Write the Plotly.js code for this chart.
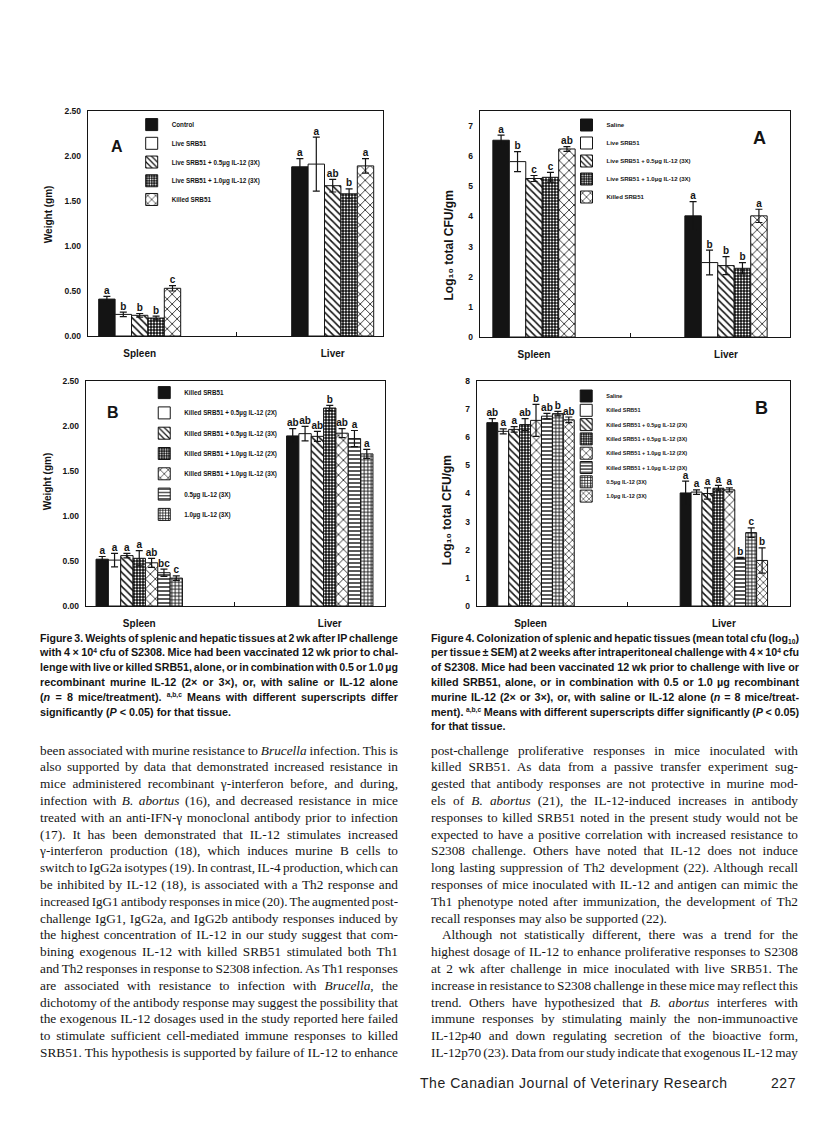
<!DOCTYPE html>
<html>
<head>
<meta charset="utf-8">
<title>Figures 3 and 4 – SRB51 and IL-12</title>
<script src="https://cdn.plot.ly/plotly-3.0.1.min.js"></script>
<style>
  html, body { margin:0; padding:0; background:#fff; }
  body { position:relative; width:816px; height:1133px; overflow:hidden; }
  .panel { position:absolute; }
  .block { position:absolute; color:#151515; }
  .line { white-space:nowrap; }
  .line > span { white-space:nowrap; display:inline-block; transform-origin:0 50%; }
  .cap { font-family:'Liberation Sans', Arial, sans-serif; font-weight:700; font-size:10.8px; line-height:14.8px; }
  .txt { font-family:'Liberation Serif', 'Times New Roman', serif; font-size:13.3px; line-height:16.8px; }
  sup { font-size:62%; line-height:1; vertical-align:baseline; position:relative; top:-0.55em; }
  sub { font-size:62%; line-height:1; vertical-align:baseline; position:relative; top:0.3em; }
  .foot { position:absolute; font-family:'Liberation Sans', Arial, sans-serif; font-size:14px; line-height:18px; color:#222; letter-spacing:0.55px; }
</style>
</head>
<body>
<div id="p1" class="panel" style="left:0px;top:90px;width:408px;height:275px"></div>
<div id="p2" class="panel" style="left:408px;top:90px;width:408px;height:275px"></div>
<div id="p3" class="panel" style="left:0px;top:365px;width:408px;height:270px"></div>
<div id="p4" class="panel" style="left:408px;top:365px;width:408px;height:270px"></div>

<div class="block cap" style="left:40px;top:630.6px;width:358px">
  <div class="line"><span>Figure 3. Weights of splenic and hepatic tissues at 2 wk after IP challenge</span></div>
  <div class="line"><span>with 4 × 10<sup>4</sup> cfu of S2308. Mice had been vaccinated 12 wk prior to chal-</span></div>
  <div class="line"><span>lenge with live or killed SRB51, alone, or in combination with 0.5 or 1.0 µg</span></div>
  <div class="line"><span>recombinant murine IL-12 (2× or 3×), or, with saline or IL-12 alone</span></div>
  <div class="line"><span>(<i>n</i> = 8 mice/treatment). <sup>a,b,c</sup> Means with different superscripts differ</span></div>
  <div class="line last"><span>significantly (<i>P</i> &lt; 0.05) for that tissue.</span></div>
</div>

<div class="block cap" style="left:431px;top:630.6px;width:368px">
  <div class="line"><span>Figure 4. Colonization of splenic and hepatic tissues (mean total cfu (log<sub>10</sub>)</span></div>
  <div class="line"><span>per tissue ± SEM) at 2 weeks after intraperitoneal challenge with 4 × 10<sup>4</sup> cfu</span></div>
  <div class="line"><span>of S2308. Mice had been vaccinated 12 wk prior to challenge with live or</span></div>
  <div class="line"><span>killed SRB51, alone, or in combination with 0.5 or 1.0 µg recombinant</span></div>
  <div class="line"><span>murine IL-12 (2× or 3×), or, with saline or IL-12 alone (<i>n</i> = 8 mice/treat-</span></div>
  <div class="line"><span>ment). <sup>a,b,c</sup> Means with different superscripts differ significantly (<i>P</i> &lt; 0.05)</span></div>
  <div class="line last"><span>for that tissue.</span></div>
</div>

<div class="block txt" style="left:40px;top:742.6px;width:358px">
  <div class="line"><span>been associated with murine resistance to <i>Brucella</i> infection. This is</span></div>
  <div class="line"><span>also supported by data that demonstrated increased resistance in</span></div>
  <div class="line"><span>mice administered recombinant γ-interferon before, and during,</span></div>
  <div class="line"><span>infection with <i>B. abortus</i> (16), and decreased resistance in mice</span></div>
  <div class="line"><span>treated with an anti-IFN-γ monoclonal antibody prior to infection</span></div>
  <div class="line"><span>(17). It has been demonstrated that IL-12 stimulates increased</span></div>
  <div class="line"><span>γ-interferon production (18), which induces murine B cells to</span></div>
  <div class="line"><span>switch to IgG2a isotypes (19). In contrast, IL-4 production, which can</span></div>
  <div class="line"><span>be inhibited by IL-12 (18), is associated with a Th2 response and</span></div>
  <div class="line"><span>increased IgG1 antibody responses in mice (20). The augmented post-</span></div>
  <div class="line"><span>challenge IgG1, IgG2a, and IgG2b antibody responses induced by</span></div>
  <div class="line"><span>the highest concentration of IL-12 in our study suggest that com-</span></div>
  <div class="line"><span>bining exogenous IL-12 with killed SRB51 stimulated both Th1</span></div>
  <div class="line"><span>and Th2 responses in response to S2308 infection. As Th1 responses</span></div>
  <div class="line"><span>are associated with resistance to infection with <i>Brucella</i>, the</span></div>
  <div class="line"><span>dichotomy of the antibody response may suggest the possibility that</span></div>
  <div class="line"><span>the exogenous IL-12 dosages used in the study reported here failed</span></div>
  <div class="line"><span>to stimulate sufficient cell-mediated immune responses to killed</span></div>
  <div class="line"><span>SRB51. This hypothesis is supported by failure of IL-12 to enhance</span></div>
</div>

<div class="block txt" style="left:431px;top:742.6px;width:367px">
  <div class="line"><span>post-challenge proliferative responses in mice inoculated with</span></div>
  <div class="line"><span>killed SRB51. As data from a passive transfer experiment sug-</span></div>
  <div class="line"><span>gested that antibody responses are not protective in murine mod-</span></div>
  <div class="line"><span>els of <i>B. abortus</i> (21), the IL-12-induced increases in antibody</span></div>
  <div class="line"><span>responses to killed SRB51 noted in the present study would not be</span></div>
  <div class="line"><span>expected to have a positive correlation with increased resistance to</span></div>
  <div class="line"><span>S2308 challenge. Others have noted that IL-12 does not induce</span></div>
  <div class="line"><span>long lasting suppression of Th2 development (22). Although recall</span></div>
  <div class="line"><span>responses of mice inoculated with IL-12 and antigen can mimic the</span></div>
  <div class="line"><span>Th1 phenotype noted after immunization, the development of Th2</span></div>
  <div class="line last"><span>recall responses may also be supported (22).</span></div>
  <div class="line" data-indent="11"><span>Although not statistically different, there was a trend for the</span></div>
  <div class="line"><span>highest dosage of IL-12 to enhance proliferative responses to S2308</span></div>
  <div class="line"><span>at 2 wk after challenge in mice inoculated with live SRB51. The</span></div>
  <div class="line"><span>increase in resistance to S2308 challenge in these mice may reflect this</span></div>
  <div class="line"><span>trend. Others have hypothesized that <i>B. abortus</i> interferes with</span></div>
  <div class="line"><span>immune responses by stimulating mainly the non-immunoactive</span></div>
  <div class="line"><span>IL-12p40 and down regulating secretion of the bioactive form,</span></div>
  <div class="line"><span>IL-12p70 (23). Data from our study indicate that exogenous IL-12 may</span></div>
</div>

<div class="foot" style="left:420px;top:1074px;">The Canadian Journal of Veterinary Research</div>
<div class="foot" style="left:771px;top:1074px;">227</div>

<script>
// ---------------- data ----------------
const tissues = ['Spleen', 'Liver'];

// Figure 3A: weight (gm) of spleen and liver, live SRB51 groups
const fig3aGroups = ['Control', 'Live SRB51', 'Live SRB51 + 0.5µg IL-12 (3X)', 'Live SRB51 + 1.0µg IL-12 (3X)', 'Killed SRB51'];
const fig3aMean = [[0.41, 1.88], [0.24, 1.91], [0.23, 1.67], [0.20, 1.58], [0.53, 1.89]];
const fig3aSem  = [[0.03, 0.09], [0.025, 0.30], [0.02, 0.07], [0.02, 0.055], [0.03, 0.08]];
const fig3aSig  = [['a', 'a'], ['b', 'a'], ['b', 'ab'], ['b', 'b'], ['c', 'a']];

// Figure 4A: log10 total CFU, live SRB51 groups
const fig4aGroups = ['Saline', 'Live SRB51', 'Live SRB51 + 0.5µg IL-12 (3X)', 'Live SRB51 + 1.0µg IL-12 (3X)', 'Killed SRB51'];
const fig4aMean = [[6.53, 4.02], [5.82, 2.47], [5.26, 2.37], [5.30, 2.28], [6.24, 4.02]];
const fig4aSem  = [[0.17, 0.47], [0.33, 0.41], [0.10, 0.30], [0.16, 0.19], [0.08, 0.22]];
const fig4aSig  = [['a', 'a'], ['b', 'b'], ['c', 'b'], ['c', 'b'], ['ab', 'a']];

// Figure 3B: weight (gm), killed SRB51 / IL-12 groups
const fig3bGroups = ['Killed SRB51', 'Killed SRB51 + 0.5µg IL-12 (2X)', 'Killed SRB51 + 0.5µg IL-12 (3X)', 'Killed SRB51 + 1.0µg IL-12 (2X)', 'Killed SRB51 + 1.0µg IL-12 (3X)', '0.5µg IL-12 (3X)', '1.0µg IL-12 (3X)'];
const fig3bMean = [[0.52, 1.89], [0.51, 1.915], [0.56, 1.885], [0.53, 2.20], [0.48, 1.92], [0.37, 1.86], [0.31, 1.69]];
const fig3bSem  = [[0.03, 0.08], [0.075, 0.08], [0.025, 0.055], [0.085, 0.03], [0.05, 0.05], [0.04, 0.09], [0.025, 0.05]];
const fig3bSig  = [['a', 'ab'], ['a', 'ab'], ['a', 'ab'], ['a', 'b'], ['ab', 'ab'], ['bc', 'a'], ['c', 'a']];

// Figure 4B: log10 total CFU, killed SRB51 / IL-12 groups
const fig4bGroups = ['Saline', 'Killed SRB51', 'Killed SRB51 + 0.5µg IL-12 (2X)', 'Killed SRB51 + 0.5µg IL-12 (3X)', 'Killed SRB51 + 1.0µg IL-12 (2X)', 'Killed SRB51 + 1.0µg IL-12 (3X)', '0.5µg IL-12 (3X)', '1.0µg IL-12 (3X)'];
const fig4bMean = [[6.52, 4.02], [6.21, 4.05], [6.28, 4.00], [6.45, 4.19], [6.60, 4.13], [6.75, 1.71], [6.84, 2.61], [6.62, 1.62]];
const fig4bSem  = [[0.14, 0.42], [0.09, 0.08], [0.10, 0.20], [0.21, 0.10], [0.57, 0.07], [0.10, 0.02], [0.08, 0.17], [0.10, 0.45]];
const fig4bSig  = [['ab', 'a'], ['a', 'a'], ['a', 'a'], ['ab', 'a'], ['b', 'a'], ['ab', 'b'], ['b', 'c'], ['ab', 'b']];

const weightTicks = [0, 0.5, 1, 1.5, 2, 2.5];
const cfuTicksA = [0, 1, 2, 3, 4, 5, 6, 7];
const cfuTicksB = [0, 1, 2, 3, 4, 5, 6, 7, 8];
const weightTitle = 'Weight (gm)';
const cfuTitle = 'Log\u2081\u2080 total CFU/gm';

// ---------------- styles ----------------
const FONT = 'Liberation Sans, Arial, sans-serif';
const INK = '#141414';
const fills = {
  solid:  { color: INK },
  open:   { color: '#ffffff' },
  hatch:  { color: '#ffffff', pattern: { shape: '\\', size: 5, solidity: 0.32, fgcolor: INK, bgcolor: '#ffffff' } },
  dots:   { color: INK, pattern: { shape: '.', size: 3, solidity: 0.3, fgcolor: '#ffffff', bgcolor: INK } },
  cross:  { color: '#ffffff', pattern: { shape: 'x', size: 7, solidity: 0.22, fgcolor: INK, bgcolor: '#ffffff' } },
  hlines: { color: '#ffffff', pattern: { shape: '-', size: 4, solidity: 0.35, fgcolor: INK, bgcolor: '#ffffff' } },
  grid:   { color: '#ffffff', pattern: { shape: '+', size: 3.5, solidity: 0.45, fgcolor: INK, bgcolor: '#ffffff' } },
  cross2: { color: '#ffffff', pattern: { shape: 'x', size: 5, solidity: 0.25, fgcolor: INK, bgcolor: '#ffffff' } }
};

const panels = [
  { id: 'p1', box: [0, 90, 408, 275], frame: [88.3, 383.3, 110.7, 336], centers: [140, 333], groupPx: 82,
    yrange: [0, 2.5], yticks: weightTicks, yfmt: '.2f',
    groups: fig3aGroups, mean: fig3aMean, sem: fig3aSem, sig: fig3aSig,
    fills: ['solid', 'open', 'hatch', 'dots', 'cross'],
    ytitle: weightTitle, ytitlePos: [48.3, 214], ytitleSize: 10,
    letter: 'A', letterPos: [117.5, 146], letterSize: 16,
    legend: { x: 158, y: 124.3, dy: 18.75, size: 6.3 } },
  { id: 'p2', box: [408, 90, 408, 275], frame: [480, 790, 111, 337], centers: [534, 726], groupPx: 82.3,
    yrange: [0, 7.5], yticks: cfuTicksA, yfmt: 'd',
    groups: fig4aGroups, mean: fig4aMean, sem: fig4aSem, sig: fig4aSig,
    fills: ['solid', 'open', 'hatch', 'dots', 'cross'],
    ytitle: cfuTitle, ytitlePos: [448, 245.5], ytitleSize: 12,
    letter: 'A', letterPos: [759, 138], letterSize: 18,
    legend: { x: 592.5, y: 125, dy: 18, size: 6 } },
  { id: 'p3', box: [0, 365, 408, 270], frame: [85.7, 385, 380.7, 605.7], centers: [139, 329.7], groupPx: 86.5,
    yrange: [0, 2.5], yticks: weightTicks, yfmt: '.2f',
    groups: fig3bGroups, mean: fig3bMean, sem: fig3bSem, sig: fig3bSig,
    fills: ['solid', 'open', 'hatch', 'dots', 'cross', 'hlines', 'grid'],
    ytitle: weightTitle, ytitlePos: [46.7, 481], ytitleSize: 10,
    letter: 'B', letterPos: [113, 412.5], letterSize: 16,
    legend: { x: 170, y: 392.3, dy: 20.3, size: 6.3 } },
  { id: 'p4', box: [408, 365, 408, 270], frame: [476.7, 790, 380.7, 605.7], centers: [530.3, 723.8], groupPx: 87.5,
    yrange: [0, 8], yticks: cfuTicksB, yfmt: 'd',
    groups: fig4bGroups, mean: fig4bMean, sem: fig4bSem, sig: fig4bSig,
    fills: ['solid', 'open', 'hatch', 'dots', 'cross', 'hlines', 'grid', 'cross2'],
    ytitle: cfuTitle, ytitlePos: [446.7, 510], ytitleSize: 12,
    letter: 'B', letterPos: [761.5, 407.7], letterSize: 18,
    legend: { x: 592, y: 395.7, dy: 14.3, size: 5.5 } }
];

function drawPanel(p) {
  const [bl, bt, bw, bh] = p.box;
  const [L, R, T, B] = p.frame;
  const m = { l: L - bl, r: bl + bw - R, t: T - bt, b: bt + bh - B, pad: 0 };
  const pw = R - L, ph = B - T;
  const toPaper = (X, Y) => [(X - L) / pw, (B - Y) / ph];
  const d = p.centers[1] - p.centers[0];
  const xrange = [-(p.centers[0] - L) / d, (R - p.centers[0]) / d];
  const gap = 1 - p.groupPx / d;

  const data = [];
  const layout = {
    width: bw, height: bh, margin: m,
    paper_bgcolor: 'rgba(0,0,0,0)', plot_bgcolor: 'rgba(0,0,0,0)',
    barmode: 'group', bargap: gap, bargroupgap: 0,
    scattermode: 'group', scattergap: gap,
    hovermode: false, showlegend: true,
    font: { family: FONT, color: INK },
    xaxis: {
      type: 'category', range: xrange, fixedrange: true,
      showline: true, mirror: true, linecolor: INK, linewidth: 1.3,
      ticks: 'inside', tickson: 'boundaries', ticklen: 4, tickwidth: 1, tickcolor: INK,
      showgrid: false, zeroline: false, ticklabelstandoff: 8,
      tickfont: { family: FONT, size: 10, color: INK, weight: 700 }
    },
    yaxis: {
      range: p.yrange, fixedrange: true, tickmode: 'array', tickvals: p.yticks, tickformat: p.yfmt,
      showline: true, mirror: true, linecolor: INK, linewidth: 1.3,
      ticks: '', showgrid: false, zeroline: false, ticklabelstandoff: 4,
      tickfont: { family: FONT, size: 8.5, color: INK, weight: 700 }
    },
    annotations: []
  };

  const tp = toPaper(p.ytitlePos[0], p.ytitlePos[1]);
  layout.annotations.push({ xref: 'paper', yref: 'paper', x: tp[0], y: tp[1], xanchor: 'center', yanchor: 'middle',
    text: p.ytitle, textangle: -90, showarrow: false, font: { family: FONT, size: p.ytitleSize, color: INK, weight: 700 } });
  const lp = toPaper(p.letterPos[0], p.letterPos[1]);
  layout.annotations.push({ xref: 'paper', yref: 'paper', x: lp[0], y: lp[1], xanchor: 'center', yanchor: 'middle',
    text: p.letter, showarrow: false, font: { family: FONT, size: p.letterSize, color: INK, weight: 700 } });

  p.groups.forEach((name, i) => {
    const legendId = i === 0 ? 'legend' : 'legend' + (i + 1);
    data.push({
      type: 'bar', name: name, x: tissues, y: p.mean[i],
      legend: legendId,
      marker: Object.assign({ line: { color: INK, width: 1 } }, fills[p.fills[i]]),
      error_y: { type: 'data', array: p.sem[i], visible: true, color: INK, thickness: 1.2, width: 3.5 }
    });
    const ly = toPaper(p.legend.x, p.legend.y + i * p.legend.dy);
    layout[legendId] = {
      x: (p.legend.x - 26 - L) / pw, y: ly[1], xanchor: 'left', yanchor: 'middle',
      xref: 'paper', yref: 'paper', bgcolor: 'rgba(0,0,0,0)', borderwidth: 0,
      font: { family: FONT, size: p.legend.size, color: INK, weight: 700 }
    };
  });
  p.groups.forEach((name, i) => {
    data.push({
      type: 'scatter', mode: 'text', showlegend: false, hoverinfo: 'skip', cliponaxis: false,
      x: tissues, y: p.mean[i].map((v, k) => v + p.sem[i][k]),
      text: p.sig[i], textposition: 'top center',
      textfont: { family: FONT, size: 10, color: INK, weight: 700 }
    });
  });

  return Plotly.newPlot(p.id, data, layout, { staticPlot: true, displayModeBar: false });
}

function fitLines() {
  document.querySelectorAll('.line').forEach(function (div) {
    const span = div.firstElementChild;
    const indent = parseFloat(div.dataset.indent || '0');
    span.style.marginLeft = indent + 'px';
    span.style.wordSpacing = '0px';
    span.style.transform = 'none';
    const target = div.clientWidth - indent;
    const w = span.getBoundingClientRect().width;
    if (div.classList.contains('last')) {
      if (w > target) span.style.transform = 'scaleX(' + (target / w) + ')';
      return;
    }
    const n = (span.textContent.match(/ /g) || []).length;
    const ws = n ? (target - w) / n : 0;
    if (ws >= -1) { span.style.wordSpacing = ws + 'px'; return; }
    span.style.wordSpacing = '-1px';
    const w2 = span.getBoundingClientRect().width;
    span.style.transform = 'scaleX(' + (target / w2) + ')';
  });
}

panels.forEach(drawPanel);
fitLines();
if (document.fonts && document.fonts.ready) { document.fonts.ready.then(fitLines); }
</script>
</body>
</html>
